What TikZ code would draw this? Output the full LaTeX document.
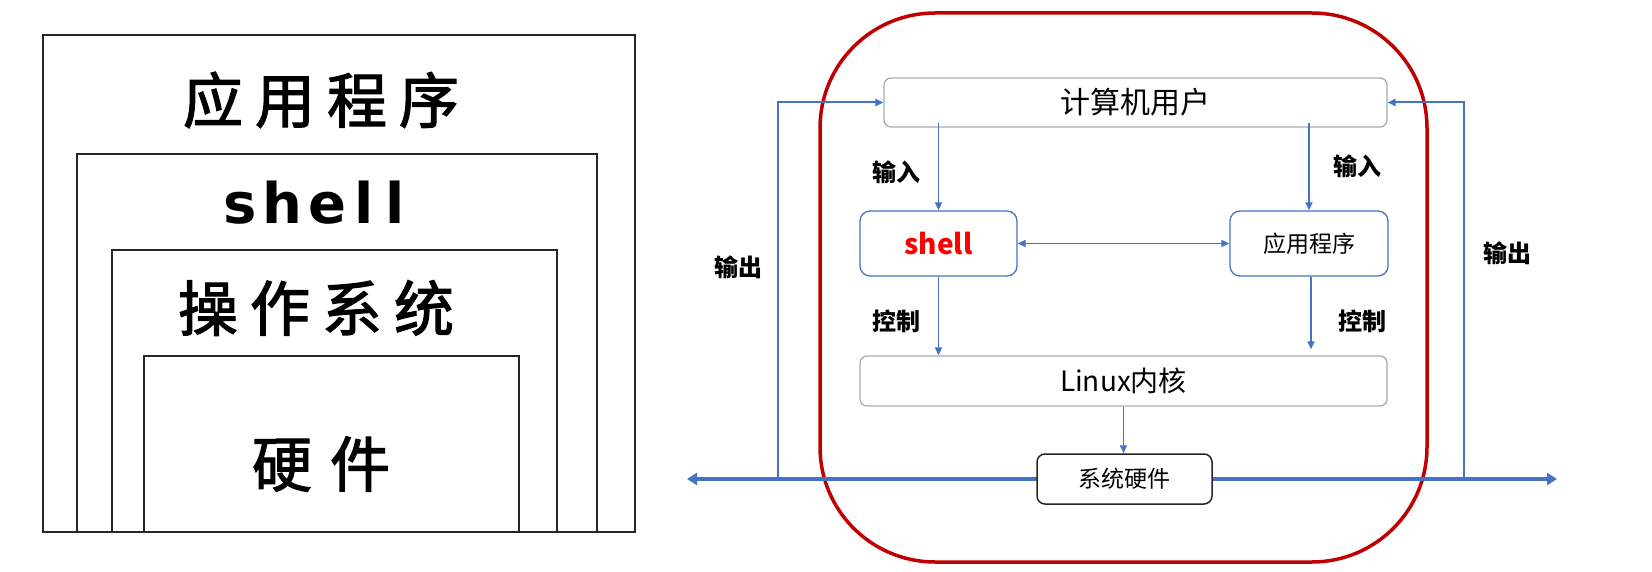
\documentclass[tikz,border=0pt]{standalone}
\usepackage{fontspec}
\newfontfamily\cjk{Noto Sans CJK SC}
\newfontfamily\cjkm[FakeBold=2]{Noto Sans CJK SC}
\newfontfamily\djv{DejaVu Sans}
\usetikzlibrary{arrows.meta}
\definecolor{myblue}{HTML}{4472C4}
\definecolor{myred}{HTML}{C00000}
\definecolor{boxgray}{HTML}{ABABAB}
\definecolor{txtred}{HTML}{FF0000}
\tikzset{
  layer/.style={draw=black!85, line width=2pt},
  bigtxt/.style={font=\cjkm\fontsize{60}{64}\selectfont, inner sep=0},
  graybox/.style={draw=boxgray, rounded corners=7pt, line width=1.3pt, inner sep=0, fill=white},
  bluebox/.style={draw=myblue, rounded corners=10pt, line width=1.3pt, inner sep=0, fill=white},
  hwbox/.style={draw=black!85, rounded corners=8pt, line width=1.5pt, inner sep=0, fill=white},
  flow/.style={myblue, line width=1.6pt, -{Triangle[length=8pt,width=7pt]}},
  bus/.style={myblue, line width=4pt, {Triangle[length=10pt,width=12pt]}-},
  lab/.style={font=\cjk\bfseries\fontsize{24}{26}\selectfont, inner sep=0},
}
\begin{document}
\begin{tikzpicture}[x=1pt,y=-1pt]
\useasboundingbox (0,0) rectangle (1652,572);
% ---- left: layered boxes ----
\draw[layer] (43,532) rectangle (635,35);
\draw[layer] (77,532) |- (597,154) -- (597,532);
\draw[layer] (112,532) |- (557,250) -- (557,532);
\draw[layer] (144,532) |- (519,356) -- (519,532);
\node[bigtxt] (tapp) at (321,100) {应\hspace{12pt}用\hspace{12pt}程\hspace{12pt}序};
\node[font=\djv\bfseries\fontsize{56}{60}\selectfont, inner sep=0] (tshell) at (314,203) {s\hspace{6pt}h\hspace{6pt}e\hspace{8pt}l\hspace{12pt}l};
\node[bigtxt] (tos) at (316,308) {操\hspace{12pt}作\hspace{12pt}系\hspace{12pt}统};
\node[bigtxt] (thw) at (321,464) {硬\hspace{18pt}件};
% ---- right: red frame ----
\draw[myred, line width=3.5pt, rounded corners=115pt] (820,13) rectangle (1427,562);
% ---- nodes ----
\node[graybox, minimum width=503pt, minimum height=49pt, font=\cjk\fontsize{30}{32}\selectfont] (user) at (1135.5,102.5) {计算机用户};
\node[bluebox, minimum width=157pt, minimum height=65pt, font=\cjk\bfseries\fontsize{28}{30}\selectfont, text=txtred] (shell) at (938.5,243.5) {shell};
\node[bluebox, minimum width=158pt, minimum height=65pt, font=\cjk\fontsize{23}{25}\selectfont] (app) at (1309,243.5) {应用程序};
\node[graybox, minimum width=527pt, minimum height=50pt, font=\cjk\fontsize{28}{30}\selectfont] (kernel) at (1123.5,381) {Linux内核};
% bus
\coordinate (busL) at (687,479);
\coordinate (busR) at (1557,479);
\coordinate (outL) at (778,479);
\coordinate (outR) at (1464,479);
\draw[bus] (busL) -- (1040,479);
\draw[bus] (busR) -- (1210,479);
\node[hwbox, minimum width=175pt, minimum height=50pt, font=\cjk\fontsize{23}{25}\selectfont] (hw) at (1124.5,479) {系统硬件};
% ---- connectors ----
\draw[flow] ([yshift=5pt]shell.north |- user.south) -- (shell.north);
\draw[flow] ([yshift=5pt]app.north |- user.south) -- (app.north);
\draw[myblue, line width=1.8pt, {Triangle[length=8pt,width=7pt]}-{Triangle[length=8pt,width=7pt]}] (shell.east) -- (app.west);
\draw[flow] (shell.south) -- (shell.south |- kernel.north);
\draw[flow, shorten >=6pt] ([xshift=2pt]app.south) -- ([xshift=2pt]app.south |- kernel.north);
\draw[flow] (kernel.south) -- (kernel.south |- hw.north);
\draw[flow, line width=2pt] (outL) |- (user.west);
\draw[flow, line width=2pt] (outR) |- (user.east);
% ---- labels ----
\node[lab] (in1) at (896,172) {输入};
\node[lab] (in2) at (1357,166) {输入};
\node[lab] (out1) at (738,267) {输出};
\node[lab] (out2) at (1507,253) {输出};
\node[lab] (ct1) at (896,321) {控制};
\node[lab] (ct2) at (1362,321) {控制};
\end{tikzpicture}
\end{document}
